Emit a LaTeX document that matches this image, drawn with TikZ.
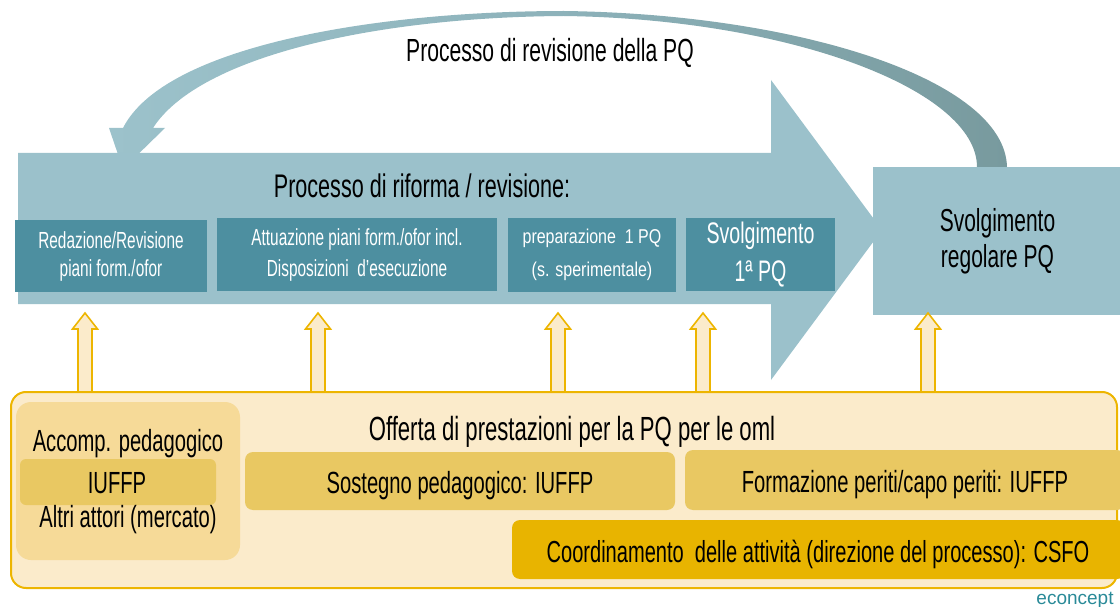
\documentclass[tikz,border=0pt]{standalone}
\usepackage{fontspec}
\setmainfont[FakeStretch=0.66]{Liberation Sans}
\newfontfamily\plainsans{Liberation Sans}
\newfontfamily\prepfont[FakeStretch=0.8]{Liberation Sans}
\definecolor{lblue}{HTML}{9BC1CB}
\definecolor{dteal}{HTML}{4D8FA0}
\definecolor{carcL}{HTML}{9CC2CB}
\definecolor{carcM}{HTML}{8DB2BA}
\definecolor{carcR}{HTML}{789A9E}
\definecolor{yfill}{HTML}{FBEBCB}
\definecolor{yline}{HTML}{EDB500}
\definecolor{yleft}{HTML}{F6DA98}
\definecolor{ymid}{HTML}{E9C862}
\definecolor{ydark}{HTML}{E8B400}
\definecolor{ecol}{HTML}{2A8A98}
\begin{document}
\begin{tikzpicture}[x=1pt,y=-1pt,
  bigtxt/.style={inner sep=0, anchor=base, font=\fontsize{32}{38}\selectfont},
  ytxt/.style={inner sep=0, anchor=base, font=\fontsize{30.6}{36}\selectfont},
  dbox/.style={fill=dteal, inner sep=0, text=white, align=center},
  ybox/.style={fill=ymid, rounded corners=8pt, inner sep=0},
  yarrow/.style={fill=yfill, draw=yline, line width=1.6pt, line join=miter}
]
\useasboundingbox (0,0) rectangle (1120,607);
% curved revision arrow
\coordinate (arcstart) at (992,167);
\coordinate (arctop) at (564,11);
\coordinate (arcend) at (123,169);
\path[left color=carcL, right color=carcR, middle color=carcM]
  (1007,167) .. controls (1005,80) and (800,14) .. (arctop)
  .. controls (380,11) and (165,45) .. (123,128)
  -- (109,128) -- (arcend) -- (165,128) -- (153,128)
  .. controls (200,55) and (380,17) .. (564,16)
  .. controls (790,19) and (977,90) .. (977,167)
  -- cycle;
\node[bigtxt] (title) at (550,62) {Processo di revisione della PQ};
% big process arrow
\fill[lblue] (18,153) -- (771,153) -- (771,80) -- (882,230) -- (771,380) -- (771,304) -- (18,304) -- cycle;
\node[bigtxt, font=\fontsize{32.7}{38}\selectfont] (riforma) at (422,197) {Processo di riforma / revisione:};
% right box
\node[fill=lblue, inner sep=0, minimum width=249pt, minimum height=148pt, align=center,
  font=\fontsize{31.8}{36}\selectfont] (regolare) at (997.5,241) {Svolgimento\\regolare PQ};
% dark boxes
\node[dbox, minimum width=192pt, minimum height=72pt, font=\fontsize{23.3}{28}\selectfont] (b1) at (111,256)
  {Redazione/Revisione\\piani form./ofor};
\node[dbox, minimum width=280pt, minimum height=73pt, font=\fontsize{23.3}{31}\selectfont] (b2) at (357,254.5)
  {Attuazione piani form./ofor incl.\\Disposizioni~ d’esecuzione};
\node[dbox, minimum width=168pt, minimum height=74pt, font=\prepfont\fontsize{20}{33}\selectfont] (b3) at (592,255)
  {preparazione~ 1 PQ\\(s. sperimentale)};
\node[dbox, minimum width=149pt, minimum height=73pt, font=\fontsize{29.7}{38}\selectfont] (b4) at (760.5,254.5)
  {Svolgimento\\1ª PQ};
% yellow up arrows
\foreach \x in {85,318,558,703,928}{
  \draw[yarrow] (\x-7,392) -- (\x-7,329) -- (\x-12.5,329) -- (\x,313) -- (\x+12.5,329) -- (\x+7,329) -- (\x+7,392) -- cycle;
}
% offer box
\draw[fill=yfill, draw=yline, line width=2pt, rounded corners=15pt] (11,392) rectangle (1117,588);
\coordinate (offer) at (564,490);
\fill[yleft, rounded corners=15pt] (16,402) rectangle (240,560);
\node[ybox, rounded corners=6pt, minimum width=196pt, minimum height=46pt] (iuffp) at (118,482) {};
\node[ytxt] (accomp) at (128,451) {Accomp. pedagogico};
\node[ytxt] (iufftxt) at (117,493) {IUFFP};
\node[ytxt] (altri) at (128,527) {Altri attori (mercato)};
\node[ytxt, font=\fontsize{33.5}{38}\selectfont] (offerta) at (572,440) {Offerta di prestazioni per la PQ per le oml};
\node[ybox, minimum width=430pt, minimum height=58pt] (sost) at (460,481) {};
\node[ytxt] at (460,493) {Sostegno pedagogico: IUFFP};
\node[ybox, minimum width=440pt, minimum height=60pt] (form) at (905,480) {};
\node[ytxt] at (905,492) {Formazione periti/capo periti: IUFFP};
\node[ybox, fill=ydark, minimum width=613pt, minimum height=59pt] (coord) at (818.5,549.5) {};
\node[ytxt, font=\fontsize{30.4}{36}\selectfont] at (818,562) {Coordinamento~ delle attività (direzione del processo): CSFO};
\node[inner sep=0, anchor=base, text=ecol, font=\plainsans\fontsize{19}{22}\selectfont] (econcept) at (1075,604) {econcept};
\end{tikzpicture}
\end{document}
